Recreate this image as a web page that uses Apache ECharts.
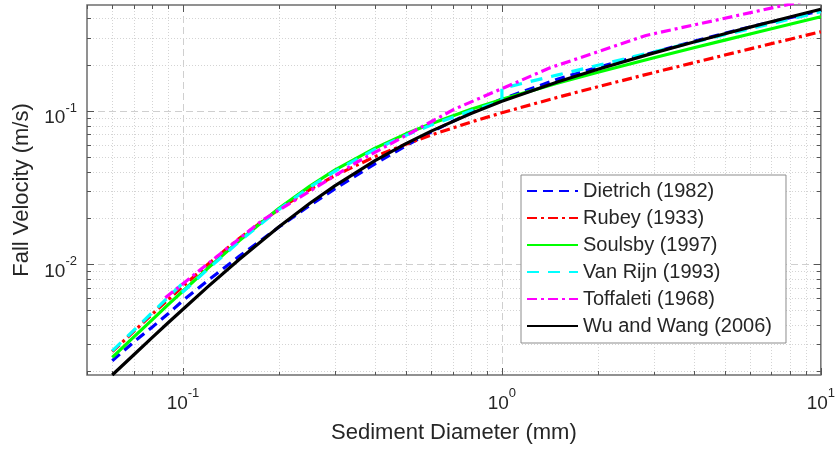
<!DOCTYPE html>
<html>
<head>
<meta charset="utf-8">
<script src="https://cdn.jsdelivr.net/npm/echarts@6.0.0/dist/echarts.min.js"></script>
<style>
  html, body { margin: 0; padding: 0; background: #ffffff; }
  #chart { width: 838px; height: 452px; }
</style>
</head>
<body>
<div id="chart"></div>
<script>
// ---------------- data ----------------
const seriesNames = ['Dietrich (1982)', 'Rubey (1933)', 'Soulsby (1997)', 'Van Rijn (1993)', 'Toffaleti (1968)', 'Wu and Wang (2006)'];

// sediment diameter (mm) shared by most curves
const diameters = [0.06, 0.07, 0.08, 0.09, 0.1, 0.12, 0.15, 0.2, 0.25, 0.3, 0.4, 0.5, 0.6, 0.8, 1, 1.5, 2, 3, 4, 5, 6, 8, 10];

// fall velocity (m/s)
const dietrich = [0.00233, 0.00308, 0.00386, 0.00474, 0.00576, 0.00781, 0.0112, 0.0174, 0.0241, 0.0310, 0.0450, 0.0590, 0.0726, 0.0975, 0.1192, 0.1611, 0.1920, 0.2410, 0.2836, 0.3200, 0.3521, 0.4050, 0.4499];
const rubey = [0.00267, 0.00361, 0.00468, 0.00586, 0.00714, 0.00997, 0.01464, 0.02277, 0.03059, 0.03776, 0.05013, 0.06046, 0.06936, 0.08436, 0.09694, 0.1225, 0.1434, 0.1776, 0.2060, 0.2309, 0.2533, 0.2930, 0.3278];
const soulsby = [0.00245, 0.00332, 0.00431, 0.00543, 0.00665, 0.00941, 0.01416, 0.02305, 0.03224, 0.0411, 0.0570, 0.0706, 0.0823, 0.1021, 0.1185, 0.1515, 0.1782, 0.2216, 0.2576, 0.2889, 0.3171, 0.3670, 0.4109];
const wuWang = [0.00188, 0.00254, 0.00330, 0.00414, 0.00505, 0.00712, 0.01068, 0.01748, 0.02488, 0.03244, 0.04721, 0.06094, 0.07356, 0.09582, 0.1151, 0.1546, 0.1866, 0.2386, 0.2812, 0.3180, 0.3511, 0.4092, 0.4601];

// Van Rijn has steps at 0.1 mm and 1 mm
const vanRijnD = [0.06, 0.07, 0.08, 0.09, 0.1, 0.1, 0.12, 0.15, 0.2, 0.25, 0.3, 0.4, 0.5, 0.6, 0.8, 1, 1, 1.5, 2, 3, 4, 5, 6, 8, 10];
const vanRijn = [0.00270, 0.00367, 0.00480, 0.00607, 0.00750, 0.00657, 0.00928, 0.01396, 0.02269, 0.0317, 0.04036, 0.05588, 0.06912, 0.08057, 0.09979, 0.1158, 0.1400, 0.1714, 0.1979, 0.2424, 0.2799, 0.3130, 0.3428, 0.3959, 0.4426];

// Toffaleti: grain-class table values
const toffaletiD = [0.088, 0.177, 0.354, 0.707, 1.41, 2.83, 5.66, 11.3];
const toffaleti = [0.0060, 0.0192, 0.0466, 0.102, 0.19, 0.31, 0.425, 0.581];

// axis ranges and ticks
const xRange = [0.05, 10];
const yRange = [0.00188, 0.49];
const xMajorTicks = [0.1, 1, 10];
const xMinorTicks = [0.05, 0.06, 0.07, 0.08, 0.09, 0.2, 0.3, 0.4, 0.5, 0.6, 0.7, 0.8, 0.9, 2, 3, 4, 5, 6, 7, 8, 9];
const yMajorTicks = [0.01, 0.1];
const yMinorTicks = [0.002, 0.003, 0.004, 0.005, 0.006, 0.007, 0.008, 0.009, 0.02, 0.03, 0.04, 0.05, 0.06, 0.07, 0.08, 0.09, 0.2, 0.3, 0.4];

// ---------------- chart ----------------
const FONT = '"Liberation Sans", Arial, Helvetica, sans-serif';
const TEXT = '#262626';

function pairs(xs, ys) { return xs.map((x, i) => [x, ys[i]]); }

function powLabel(v) {
  const l = Math.log10(v);
  const e = Math.round(l);
  if (Math.abs(l - e) > 1e-6) return '';
  return '{b|10}{s|' + e + '}';
}

const labelRich = {
  b: { fontSize: 19, fontFamily: FONT, color: TEXT, verticalAlign: 'bottom', lineHeight: 26 },
  s: { fontSize: 13, fontFamily: FONT, color: TEXT, verticalAlign: 'top', lineHeight: 26 }
};

function gridRender(params, api) {
  const cs = params.coordSys;
  const left = cs.x, top = cs.y, right = cs.x + cs.width, bottom = cs.y + cs.height;
  const ch = [];
  const minorStyle = { stroke: '#d4d4d4', lineWidth: 1, lineDash: [1, 2] };
  const majorStyle = { stroke: '#cfcfcf', lineWidth: 1, lineDash: [7, 4] };
  const tickStyle = { stroke: '#555555', lineWidth: 1 };
  function vline(x, y1, y2, st) { ch.push({ type: 'line', shape: { x1: x, y1: y1, x2: x, y2: y2 }, style: st, silent: true }); }
  function hline(y, x1, x2, st) { ch.push({ type: 'line', shape: { x1: x1, y1: y, x2: x2, y2: y }, style: st, silent: true }); }
  xMinorTicks.forEach(v => {
    const x = Math.round(api.coord([v, yRange[0]])[0]) + 0.5;
    if (x > left + 1 && x < right - 1) vline(x, top, bottom, minorStyle);
    vline(x, bottom, bottom - 4, tickStyle);
    vline(x, top, top + 4, tickStyle);
  });
  xMajorTicks.forEach(v => {
    const x = Math.round(api.coord([v, yRange[0]])[0]) + 0.5;
    if (x > left + 1 && x < right - 1) vline(x, top, bottom, majorStyle);
    vline(x, bottom, bottom - 7, tickStyle);
    vline(x, top, top + 7, tickStyle);
  });
  yMinorTicks.forEach(v => {
    const y = Math.round(api.coord([xRange[0], v])[1]) + 0.5;
    if (y > top + 1 && y < bottom - 1) hline(y, left, right, minorStyle);
    hline(y, left, left + 4, tickStyle);
    hline(y, right, right - 4, tickStyle);
  });
  yMajorTicks.forEach(v => {
    const y = Math.round(api.coord([xRange[0], v])[1]) + 0.5;
    if (y > top + 1 && y < bottom - 1) hline(y, left, right, majorStyle);
    hline(y, left, left + 7, tickStyle);
    hline(y, right, right - 7, tickStyle);
  });
  return { type: 'group', children: ch };
}

function lineSeries(name, data, color, type, width) {
  return {
    name: name, type: 'line', data: data, symbol: 'none', showSymbol: false,
    clip: true, z: 3, animation: false,
    lineStyle: { color: color, width: width, type: type, cap: 'butt', join: 'round' },
    itemStyle: { color: color },
    emphasis: { disabled: true }
  };
}

const chart = echarts.init(document.getElementById('chart'), null, { renderer: 'canvas' });
chart.setOption({
  animation: false,
  backgroundColor: '#ffffff',
  textStyle: { fontFamily: FONT, color: TEXT },
  grid: {
    left: 87, right: 15, top: 5, bottom: 77,
    show: true, borderColor: '#6e6e6e', borderWidth: 1.5, backgroundColor: '#ffffff'
  },
  xAxis: {
    type: 'log', logBase: 10, min: xRange[0], max: xRange[1],
    name: 'Sediment Diameter (mm)', nameLocation: 'middle', nameGap: 47,
    nameTextStyle: { fontSize: 22, fontFamily: FONT, color: TEXT },
    axisLine: { show: false }, axisTick: { show: false }, splitLine: { show: false },
    axisLabel: { interval: 0, margin: 12, formatter: powLabel, rich: labelRich, showMinLabel: true, showMaxLabel: true, hideOverlap: false }
  },
  yAxis: {
    type: 'log', logBase: 10, min: yRange[0], max: yRange[1],
    name: 'Fall Velocity (m/s)', nameLocation: 'middle', nameGap: 53,
    nameTextStyle: { fontSize: 22, fontFamily: FONT, color: TEXT },
    axisLine: { show: false }, axisTick: { show: false }, splitLine: { show: false },
    axisLabel: { interval: 0, margin: 10, formatter: powLabel, rich: labelRich, padding: [8, 0, 0, 0], showMinLabel: true, showMaxLabel: true, hideOverlap: false }
  },
  legend: {
    data: seriesNames,
    orient: 'vertical', left: 521, top: 175,
    itemWidth: 51, itemHeight: 20, itemGap: 7,
    padding: [6, 14, 7, 5],
    backgroundColor: '#ffffff', borderColor: '#8c8c8c', borderWidth: 1,
    textStyle: { fontSize: 20, fontFamily: FONT, color: TEXT },
    itemStyle: { opacity: 0, borderWidth: 0 },
    lineStyle: { opacity: 1 },
    selectedMode: false
  },
  series: [
    {
      type: 'custom', coordinateSystem: 'cartesian2d', silent: true, z: 1,
      data: [[1, 0.01]], renderItem: gridRender, animation: false
    },
    lineSeries(seriesNames[0], pairs(diameters, dietrich), '#0000ff', [10, 6], 3.2),
    lineSeries(seriesNames[1], pairs(diameters, rubey), '#ff0000', [10, 4, 3, 4], 3.2),
    lineSeries(seriesNames[2], pairs(diameters, soulsby), '#00ff00', 'solid', 3.2),
    lineSeries(seriesNames[3], pairs(vanRijnD, vanRijn), '#00ffff', [12, 9], 3.2),
    lineSeries(seriesNames[4], pairs(toffaletiD, toffaleti), '#ff00ff', [10, 4, 3, 4], 3.2),
    lineSeries(seriesNames[5], pairs(diameters, wuWang), '#000000', 'solid', 3.2)
  ]
});
</script>
</body>
</html>
